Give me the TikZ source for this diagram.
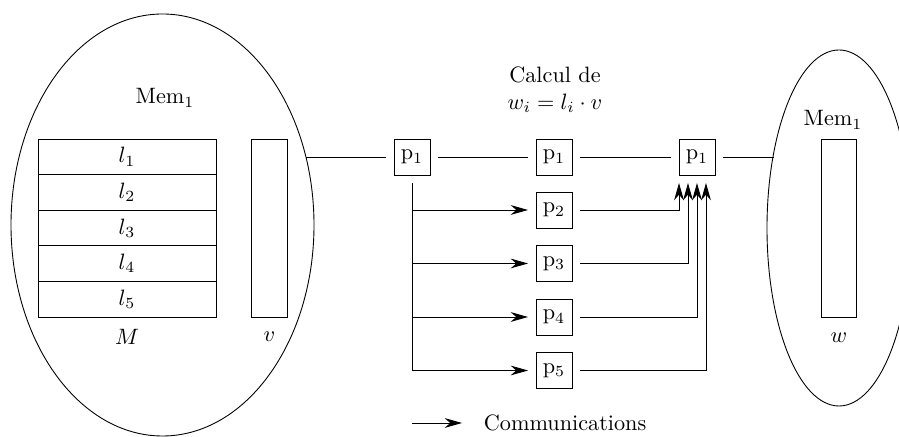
\documentclass[tikz,border=0pt]{standalone}
\usetikzlibrary{shapes.geometric,arrows.meta}
\begin{document}
\begin{tikzpicture}[x=0.45pt,y=-0.45pt,
  proc/.style={draw,minimum size=16.2pt,inner sep=0pt,outer sep=3.6pt},
  row/.style={draw,minimum width=80.1pt,minimum height=16pt,inner sep=0pt,outer sep=0pt},
  vec/.style={draw,minimum width=15.9pt,minimum height=80.1pt,inner sep=0pt},
  mem/.style={draw,ellipse,inner sep=0pt},
  arr/.style={-{Stealth[length=7.8pt,width=4.4pt]}}]
\useasboundingbox (0,0) rectangle (899,437);
% memories
\node[mem,minimum width=136.35pt,minimum height=189.9pt] (memL) at (162.5,225) {};
\node[mem,minimum width=64.8pt,minimum height=160.2pt] (memR) at (839,228) {};
\node (memLt) at (165,98) {Mem$_1$};
\node (memRt) at (833,120) {Mem$_1$};
% matrix M
\foreach \i in {1,...,5}{
  \node[row] (l\i) at (127,{139+35.6*(\i-0.5)}) {$l_{\i}$};
}
\node (Mlab) at (127,337) {$M$};
\node[vec] (v) at (269.5,228) {};
\node (vlab) at (269.5,337) {$v$};
\node[vec] (w) at (839,228) {};
\node (wlab) at (839,338) {$w$};
% processors
\node[proc] (p1a) at (412,157) {p$_1$};
\node[proc] (p1b) at (554,157) {p$_1$};
\node[proc] (p1c) at (697,157) {p$_1$};
\node[proc] (p2) at (554,210) {p$_2$};
\node[proc] (p3) at (554,263.5) {p$_3$};
\node[proc] (p4) at (554,317) {p$_4$};
\node[proc] (p5) at (554,370.5) {p$_5$};
\node[align=center] (calc) at (555,90) {Calcul de\\$w_i=l_i\cdot v$};
% connections
\coordinate (eL) at (306,157);
\coordinate (eR) at (774,157);
\draw (eL) -- (p1a);
\draw (p1a) -- (p1b);
\draw (p1b) -- (p1c);
\draw (p1c) -- (eR);
\draw (p1a) -- (p1a|-p5);
\foreach \k in {2,...,5}{
  \draw[arr] (p1a|-p\k) -- (p\k);
}
\draw[arr] (p2) -| ([xshift=-8.1pt]p1c.south);
\draw[arr] (p3) -| ([xshift=-4.05pt]p1c.south);
\draw[arr] (p4) -| (p1c.south);
\draw[arr] (p5) -| ([xshift=4.05pt]p1c.south);
% legend
\coordinate (la) at (412,423);
\coordinate (lb) at (462,423);
\draw[arr] (la) -- (lb);
\node[anchor=west] (comm) at (476,423) {Communications};
\end{tikzpicture}
\end{document}
